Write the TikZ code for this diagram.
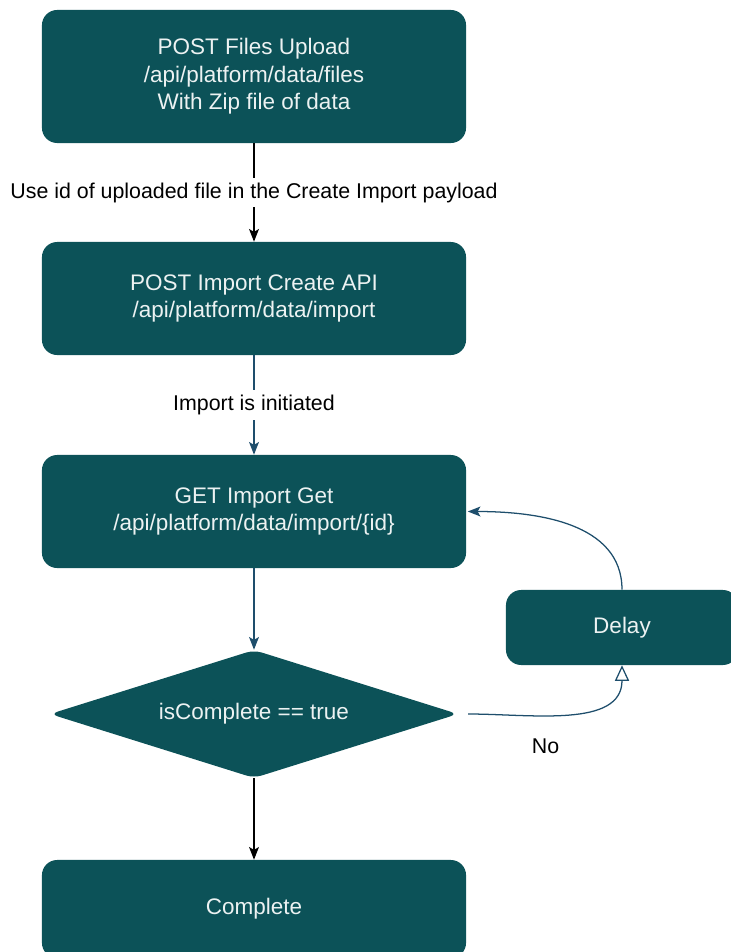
\documentclass[tikz,border=0pt]{standalone}
\usepackage{fontspec}
\setmainfont{Liberation Sans}
\usetikzlibrary{shapes.geometric,arrows.meta}
\definecolor{boxteal}{RGB}{12,82,88}
\definecolor{flowblue}{RGB}{30,78,108}
\definecolor{boxtext}{RGB}{236,242,242}
\tikzset{
  stepbox/.style={fill=boxteal, rounded corners=0.38cm, text=boxtext, align=center,
    minimum width=10.6cm, font=\fontsize{16}{19.5}\selectfont},
  testbox/.style={diamond, aspect=3.2, fill=boxteal, rounded corners=0.2cm, text=boxtext,
    minimum width=10.2cm, minimum height=3.2cm, inner sep=0pt, font=\fontsize{16}{19.5}\selectfont},
  flow/.style={line width=0.9pt, -{Stealth[length=9pt,width=7pt,inset=2pt]}},
  edgetext/.style={fill=white, text=black, font=\fontsize{15.2}{18}\selectfont}
}
\begin{document}
\begin{tikzpicture}[x=0.025cm,y=-0.025cm]
\useasboundingbox (0,0) rectangle (730,952);
\node [stepbox, minimum height=3.325cm] (upload) at (254,76.5)
    {POST Files Upload\\/api/platform/data/files\\With Zip file of data};
\node [stepbox, minimum height=2.825cm] (create) at (254,298.5)
    {POST Import Create API\\/api/platform/data/import};
\node [stepbox, minimum height=2.825cm] (get) at (254,511.5)
    {GET Import Get\\/api/platform/data/import/\{id\}};
\node [testbox] (check) at (254,714) {isComplete == true};
\node [stepbox, minimum height=2.45cm] (done) at (254,909) {Complete};
\node [stepbox, minimum width=5.8cm, minimum height=1.875cm] (delay) at (622,627.5) {Delay};

\draw [flow] (upload) -- node [edgetext] {Use id of uploaded file in the Create Import payload} (create);
\draw [flow, flowblue] (create) -- node [edgetext] {Import is initiated} (get);
\draw [flow, flowblue] (get) -- (check);
\draw [flow] (check) -- (done);
\draw [line width=0.9pt, flowblue, -{Triangle[open,length=11pt,width=10pt]}]
    ([xshift=7pt]check.east) to [out=0,in=-90]
    node [pos=0.38, below=13pt, text=black, font=\fontsize{15.2}{18}\selectfont] {No} (delay.south);
\draw [flow, flowblue] (delay.north) to [out=90,in=0] ([xshift=1pt]get.east);
\end{tikzpicture}
\end{document}
